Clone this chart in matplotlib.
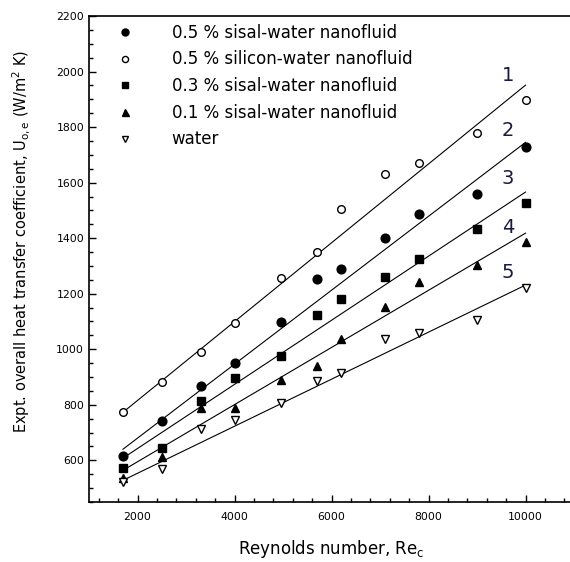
import numpy as np
import matplotlib
matplotlib.use("Agg")
import matplotlib.pyplot as plt
from matplotlib.ticker import MultipleLocator

plt.rcParams['font.family'] = ['DejaVu Sans']

re = [1700, 2500, 3300, 4000, 4950, 5700, 6200, 7100, 7800, 9000, 10000]
sisal_05 = [614, 741, 867, 950, 1097, 1252, 1288, 1400, 1487, 1560, 1728]
silicon_05 = [773, 881, 989, 1094, 1256, 1350, 1505, 1631, 1670, 1778, 1897]
sisal_03 = [571, 643, 812, 897, 975, 1122, 1180, 1260, 1324, 1433, 1526]
sisal_01 = [535, 611, 790, 787, 888, 940, 1036, 1151, 1242, 1303, 1388]
water = [521, 568, 712, 744, 805, 885, 913, 1036, 1058, 1105, 1220]

# fitted lines (values at Re = 1700 and Re = 10000)
fit_x = [1700, 10000]
fit_1 = [773, 1951]
fit_2 = [640, 1745]
fit_3 = [608, 1566]
fit_4 = [564, 1418]
fit_5 = [528, 1231]
line_labels = ["1", "2", "3", "4", "5"]
label_y = [1984, 1789, 1616, 1440, 1278]

fig = plt.figure(figsize=(5.70, 5.62), dpi=100)
ax = fig.add_axes([89/570, 60/562, 485/570, 486/562])

for fy in [fit_1, fit_2, fit_3, fit_4, fit_5]:
    ax.plot(fit_x, fy, color='black', lw=0.8, zorder=2)

ax.plot(re, sisal_05, 'o', color='black', ms=6.3, mec='black', ls='none',
        label='0.5 % sisal-water nanofluid', zorder=3)
ax.plot(re, silicon_05, 'o', color='black', mfc='white', ms=5.5, mew=1.0, ls='none',
        label='0.5 % silicon-water nanofluid', zorder=3)
ax.plot(re, sisal_03, 's', color='black', ms=5.8, ls='none',
        label='0.3 % sisal-water nanofluid', zorder=3)
ax.plot(re, sisal_01, '^', color='black', ms=6.3, ls='none',
        label='0.1 % sisal-water nanofluid', zorder=3)
ax.plot(re, water, 'v', color='black', mfc='white', ms=5.5, mew=1.0, ls='none',
        label='water', zorder=3)

for lab, ly in zip(line_labels, label_y):
    ax.text(9640, ly, lab, fontsize=14, ha='center', va='center', color='#1a1a40')

ax.set_xlim(1000, 11000)
ax.set_ylim(450, 2200)
ax.xaxis.set_major_locator(MultipleLocator(2000))
ax.xaxis.set_minor_locator(MultipleLocator(400))
ax.yaxis.set_major_locator(MultipleLocator(200))
ax.yaxis.set_minor_locator(MultipleLocator(50))
ax.tick_params(which='both', direction='in', top=False, right=False, labelsize=7.8, width=1.0)
ax.tick_params(which='major', length=5)
ax.tick_params(axis='x', which='major', pad=7)
ax.tick_params(which='minor', length=3)
for s in ax.spines.values():
    s.set_linewidth(1.2)

ax.set_xlabel('Reynolds number, Re$_\\mathregular{c}$', fontsize=12, labelpad=12)
ax.set_ylabel('Expt. overall heat transfer coefficient, U$_\\mathregular{o,e}$ (W/m$^\\mathregular{2}$ K)',
              fontsize=10.5)
ax.yaxis.set_label_coords(-0.117, 0.537)

leg = ax.legend(loc='upper left', bbox_to_anchor=(0.057, 0.984), frameon=False, fontsize=12,
                labelspacing=0.52, handlelength=1.0, handletextpad=2.3, borderaxespad=0.0,
                borderpad=0.0, markerscale=0.8)

fig.savefig('out.png', dpi=100)
